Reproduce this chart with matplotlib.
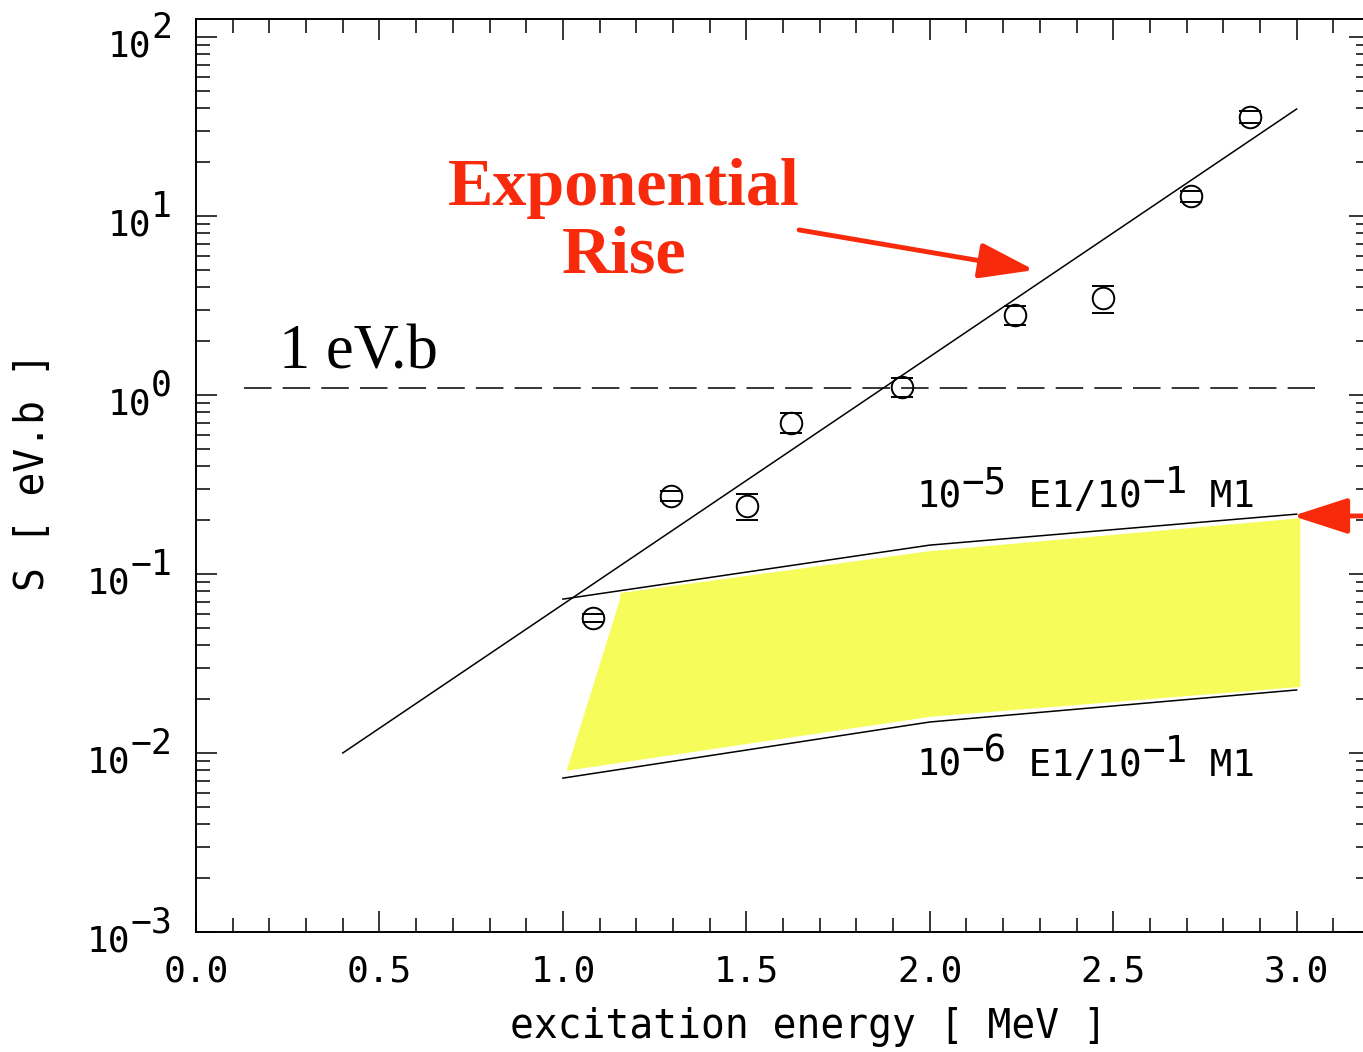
import numpy as np
import matplotlib
matplotlib.use('Agg')
import matplotlib.pyplot as plt

plt.rcParams['font.family'] = ['DejaVu Sans Mono']

# measured strength
energy = [1.083, 1.295, 1.503, 1.623, 1.923, 2.233, 2.473, 2.713, 2.872]
strength = [0.057, 0.273, 0.24, 0.70, 1.11, 2.80, 3.48, 12.9, 35.7]
strength_err = [0.003, 0.018, 0.04, 0.09, 0.14, 0.34, 0.6, 0.85, 2.8]

# exponential fit
fit_x = [0.4, 3.0]
fit_y = [0.01, 39.6]

# E1/M1 mixing limits
limit_x = [1.0, 2.0, 3.0]
limit_hi = [0.0724, 0.145, 0.216]
limit_lo = [0.00724, 0.0149, 0.0225]

# shaded region
band_x = [1.006, 1.151, 1.155, 2.0, 3.013, 3.013, 2.0, 1.006]
band_y = [0.00783, 0.0700, 0.0793, 0.136, 0.208, 0.0231, 0.0157, 0.00783]

ref_level = 1.1
ref_x = [0.13, 3.05]

xticks = [0.0, 0.5, 1.0, 1.5, 2.0, 2.5, 3.0]
decades = [-3, -2, -1, 0, 1, 2]

red = '#f82a0c'
CW = 0.602  # DejaVu Sans Mono advance per point


def pieces(ax, xy, parts, size, sup_size, rise, coords='data', dx=0, dy=0, ha='left'):
    # draw base text and raised exponents side by side
    widths = [len(t) * CW * (sup_size if s else size) for t, s in parts]
    x0 = dx - (sum(widths) if ha == 'right' else 0)
    for (t, s), w in zip(parts, widths):
        ax.annotate(t, xy, xycoords=coords, xytext=(x0, dy + (rise if s else 0)),
                    textcoords='offset points', fontsize=sup_size if s else size,
                    va='baseline', ha='left', annotation_clip=False)
        x0 += w


fig = plt.figure(figsize=(13.63, 10.52), dpi=100)
ax = fig.add_axes([196 / 1363, 1 - 932 / 1052, 1174 / 1363, 913 / 1052])
ax.set_yscale('log')
ax.set_xlim(0, 3.2)
ax.set_ylim(1e-3, 10 ** 2.1006)

ax.fill(band_x, band_y, color='#f6fd5a', edgecolor='white', lw=1.5, zorder=1)
ax.plot(limit_x, limit_hi, color='black', lw=1.1, zorder=2)
ax.plot(limit_x, limit_lo, color='black', lw=1.1, zorder=2)
ax.plot(fit_x, fit_y, color='black', lw=1.1, zorder=2)
ax.plot(ref_x, [ref_level, ref_level], color='black', lw=1.1,
        linestyle=(0, (18, 7.3)), zorder=2)

eb = ax.errorbar(energy, strength, yerr=strength_err, fmt='none', ecolor='black',
                 elinewidth=0, capsize=8, capthick=1.4, zorder=3)
ax.plot(energy, strength, 'o', ms=15.5, mfc='none', mec='black', mew=1.4, zorder=4)

# annotations
ax.text(1.167, 11.5, 'Exponential', color=red, family='Liberation Serif',
        weight='bold', fontsize=49, ha='center', va='baseline')
ax.text(1.167, 4.86, 'Rise', color=red, family='Liberation Serif',
        weight='bold', fontsize=49, ha='center', va='baseline')
ax.annotate('', xy=(2.285, 4.99), xytext=(1.644, 8.36),
            arrowprops=dict(arrowstyle='-|>,head_length=3.4,head_width=1.1',
                            mutation_scale=10, color=red, lw=3.5,
                            shrinkA=0, shrinkB=0))
ax.annotate('', xy=(2.989, 0.211), xytext=(3.26, 0.211),
            arrowprops=dict(arrowstyle='-|>,head_length=3.4,head_width=1.1',
                            mutation_scale=10, color=red, lw=3.5,
                            shrinkA=0, shrinkB=0), annotation_clip=False)
ax.text(0.226, 1.415, '1 eV.b', family='Liberation Serif', fontsize=45,
        ha='left', va='baseline')

label_hi = [('10', False), ('\u22125', True), (' E1/10', False), ('\u22121', True), (' M1', False)]
label_lo = [('10', False), ('\u22126', True), (' E1/10', False), ('\u22121', True), (' M1', False)]
pieces(ax, (1.963, 0.2366), label_hi, 27, 27, 10)
pieces(ax, (1.963, 0.00745), label_lo, 27, 27, 10)

# axes styling
for s in ax.spines.values():
    s.set_linewidth(1.4)
ax.set_xticks(xticks)
ax.set_xticklabels(['%.1f' % v for v in xticks], fontsize=26)
ax.set_xticks(np.arange(0, 3.21, 0.1), minor=True)
ax.tick_params(which='both', direction='in', top=True, right=True, width=1.1)
ax.tick_params(which='major', length=15)
ax.tick_params(which='minor', length=10)
ax.tick_params(axis='x', pad=16)
ax.set_yticks([10.0 ** k for k in decades])
ax.yaxis.set_minor_locator(matplotlib.ticker.LogLocator(base=10, subs=np.arange(2, 10)))
ax.yaxis.set_minor_formatter(matplotlib.ticker.NullFormatter())
ax.set_yticklabels([])

for k in decades:
    pieces(ax, (0, 10.0 ** k), [('10', False), (str(k).replace('-', '\u2212'), True)],
           26, 25, 13, coords=('axes fraction', 'data'), dx=-17.3, dy=-13.7, ha='right')

fig.text(808 / 1363, 1 - 1038 / 1052, 'excitation energy [ MeV ]', fontsize=28.5,
         ha='center', va='baseline')
fig.text(33 / 1363, 1 - 472 / 1052, 'S [ eV.b ]', fontsize=28.5, rotation=90,
         ha='center', va='center')

fig.savefig('out.png', dpi=100)
